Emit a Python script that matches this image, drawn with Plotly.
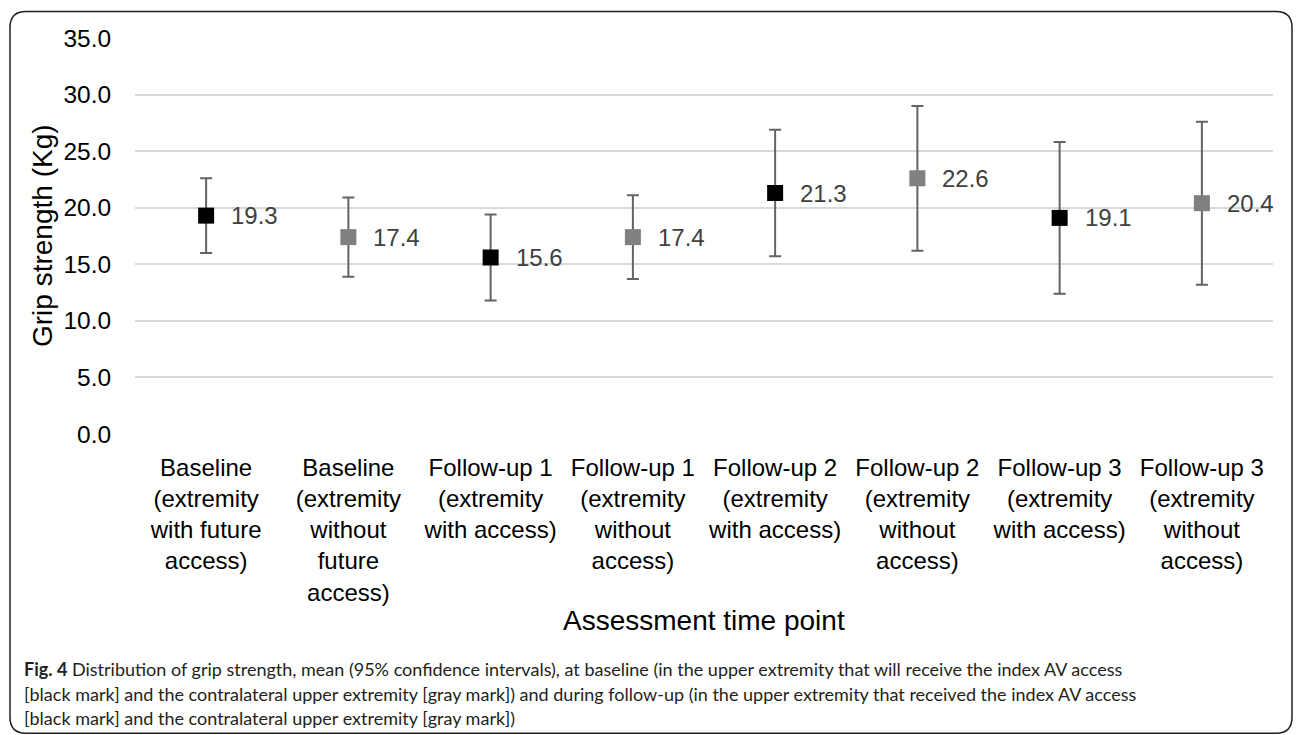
import plotly.graph_objects as go

categories = [
    "Baseline<br>(extremity<br>with future<br>access)",
    "Baseline<br>(extremity<br>without<br>future<br>access)",
    "Follow-up 1<br>(extremity<br>with access)",
    "Follow-up 1<br>(extremity<br>without<br>access)",
    "Follow-up 2<br>(extremity<br>with access)",
    "Follow-up 2<br>(extremity<br>without<br>access)",
    "Follow-up 3<br>(extremity<br>with access)",
    "Follow-up 3<br>(extremity<br>without<br>access)",
]
means = [19.3, 17.4, 15.6, 17.4, 21.3, 22.6, 19.1, 20.4]
upper = [22.6, 20.9, 19.4, 21.1, 26.9, 29.0, 25.8, 27.6]
lower = [16.0, 13.9, 11.8, 13.7, 15.7, 16.2, 12.4, 13.2]
marker_colors = ["#000000", "#808080", "#000000", "#808080",
                 "#000000", "#808080", "#000000", "#808080"]
y_ticks = [0, 5, 10, 15, 20, 25, 30, 35]

W, H = 1296, 735
L, R, T, B = 135, 1273, 37.5, 433.7
ARIAL = "Liberation Sans, Arial, sans-serif"

fig = go.Figure()
fig.add_trace(go.Scatter(
    x=categories, y=means, mode="markers",
    marker=dict(symbol="square", size=16, color=marker_colors, line=dict(width=0)),
    error_y=dict(type="data", symmetric=False,
                 array=[u - m for u, m in zip(upper, means)],
                 arrayminus=[m - l for m, l in zip(means, lower)],
                 color="#636363", thickness=2, width=6),
    showlegend=False, cliponaxis=False,
))

annotations = []
for c, m in zip(categories, means):
    annotations.append(dict(x=c, y=m, xref="x", yref="y", text=f"{m:.1f}",
                            showarrow=False, xanchor="left", yanchor="middle",
                            xshift=23, font=dict(size=24, color="#404040", family=ARIAL)))

def px2x(px):
    return (px - L) / (R - L)

def py2y(py):
    return (B - py) / (B - T)

# axis titles
annotations.append(dict(x=px2x((L + R) / 2), y=py2y(620), xref="paper", yref="paper",
                        text="Assessment time point", showarrow=False,
                        font=dict(size=28, color="#000000", family=ARIAL),
                        xanchor="center", yanchor="middle"))
annotations.append(dict(x=px2x(42), y=py2y((T + B) / 2), xref="paper", yref="paper",
                        text="Grip strength (Kg)", showarrow=False, textangle=-90,
                        font=dict(size=28, color="#000000", family=ARIAL),
                        xanchor="center", yanchor="middle"))

caption_lines = [
    "<b>Fig. 4</b> Distribution of grip strength, mean (95% confidence intervals), at baseline (in the upper extremity that will receive the index AV access",
    "[black mark] and the contralateral upper extremity [gray mark]) and during follow-up (in the upper extremity that received the index AV access",
    "[black mark] and the contralateral upper extremity [gray mark])",
]
for i, line in enumerate(caption_lines):
    annotations.append(dict(x=px2x(22), y=py2y(669 + 24.5 * i), xref="paper", yref="paper",
                            text=line, showarrow=False, xanchor="left", yanchor="middle",
                            font=dict(size=18, color="#231f20", family="Lato, Noto Sans, sans-serif")))

# rounded frame
x0, x1, y0, y1, r = 10, 1292, 11, 733, 16
def P(px, py):
    return f"{px2x(px):.5f},{py2y(py):.5f}"
path = (f"M {P(x0 + r, y0)} L {P(x1 - r, y0)} Q {P(x1, y0)} {P(x1, y0 + r)} "
        f"L {P(x1, y1 - r)} Q {P(x1, y1)} {P(x1 - r, y1)} "
        f"L {P(x0 + r, y1)} Q {P(x0, y1)} {P(x0, y1 - r)} "
        f"L {P(x0, y0 + r)} Q {P(x0, y0)} {P(x0 + r, y0)} Z")
shapes = [dict(type="path", xref="paper", yref="paper", path=path,
               line=dict(color="#231f20", width=1.5), fillcolor="rgba(0,0,0,0)", layer="below")]

fig.update_layout(
    width=W, height=H,
    margin=dict(l=L, r=W - R, t=T, b=H - B, pad=0),
    paper_bgcolor="white", plot_bgcolor="white",
    font=dict(family=ARIAL, color="#000000"),
    xaxis=dict(type="category", categoryorder="array", categoryarray=categories,
               range=[-0.5, 7.5], showgrid=False, zeroline=False, showline=False,
               ticks="outside", ticklen=12, tickcolor="rgba(0,0,0,0)",
               tickfont=dict(size=24, color="#000000")),
    yaxis=dict(range=[0, 35], tickvals=y_ticks, ticktext=[f"{v:.1f}" for v in y_ticks],
               showgrid=True, gridcolor="#d9d9d9", gridwidth=1.5, zeroline=False,
               showline=False, ticks="outside", ticklen=18, tickcolor="rgba(0,0,0,0)",
               tickfont=dict(size=24.5, color="#000000")),
    annotations=annotations, shapes=shapes,
)

fig.write_html("out.html", config={"displayModeBar": False},
               post_script="document.body.style.margin='0';document.body.style.overflow='hidden';")
